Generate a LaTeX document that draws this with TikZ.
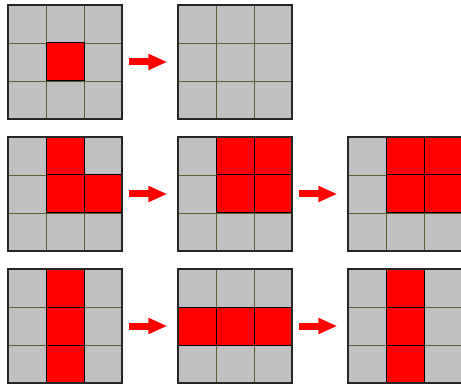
\documentclass[tikz,border=0pt]{standalone}
\usetikzlibrary{arrows.meta}

\definecolor{cellgray}{HTML}{C0C0C0}
\definecolor{gridolive}{HTML}{5E5E30}

\tikzset{
    board/.style={draw=black!85, line width=1.3pt, minimum size=114pt, inner sep=0pt},
    oncell/.style={fill=red, draw=black, line width=1pt},
    move/.style={red, line width=7pt, -{Triangle[length=19pt, width=15pt]},
        shorten <=6pt, shorten >=10pt}
}

% a 3x3 board: name, top-left corner, red cells as col/row
\newcommand{\board}[3]{%
    \begin{scope}[shift={(#2)}]
        \fill[cellgray] (0,0) rectangle (114,114);
        \foreach \k in {38, 76} {
            \draw[gridolive, line width=0.8pt] (\k,0) -- (\k,114);
            \draw[gridolive, line width=0.8pt] (0,\k) -- (114,\k);
        }
        \foreach \c/\r in {#3}
            \draw[oncell] (38*\c,38*\r) rectangle ++(38,38);
        \node[board] (#1) at (57,57) {};
    \end{scope}
}

\begin{document}
\begin{tikzpicture}[x=1pt, y=-1pt]
    \useasboundingbox (0,0) rectangle (461,385);
    \clip (0,0) rectangle (461,385);

    % Row 1
    \board{g11}{8,5}{1/1}
    \board{g12}{178,5}{}

    % Row 2
    \board{g21}{8,137}{1/0, 1/1, 2/1}
    \board{g22}{178,137}{1/0, 2/0, 1/1, 2/1}
    \board{g23}{348,137}{1/0, 2/0, 1/1, 2/1}

    % Row 3
    \board{g31}{8,269}{1/0, 1/1, 1/2}
    \board{g32}{178,269}{0/1, 1/1, 2/1}
    \board{g33}{348,269}{1/0, 1/1, 1/2}

    % Moves
    \draw[move] (g11) -- (g12);
    \draw[move] (g21) -- (g22);
    \draw[move] (g22) -- (g23);
    \draw[move] (g31) -- (g32);
    \draw[move] (g32) -- (g33);
\end{tikzpicture}
\end{document}
